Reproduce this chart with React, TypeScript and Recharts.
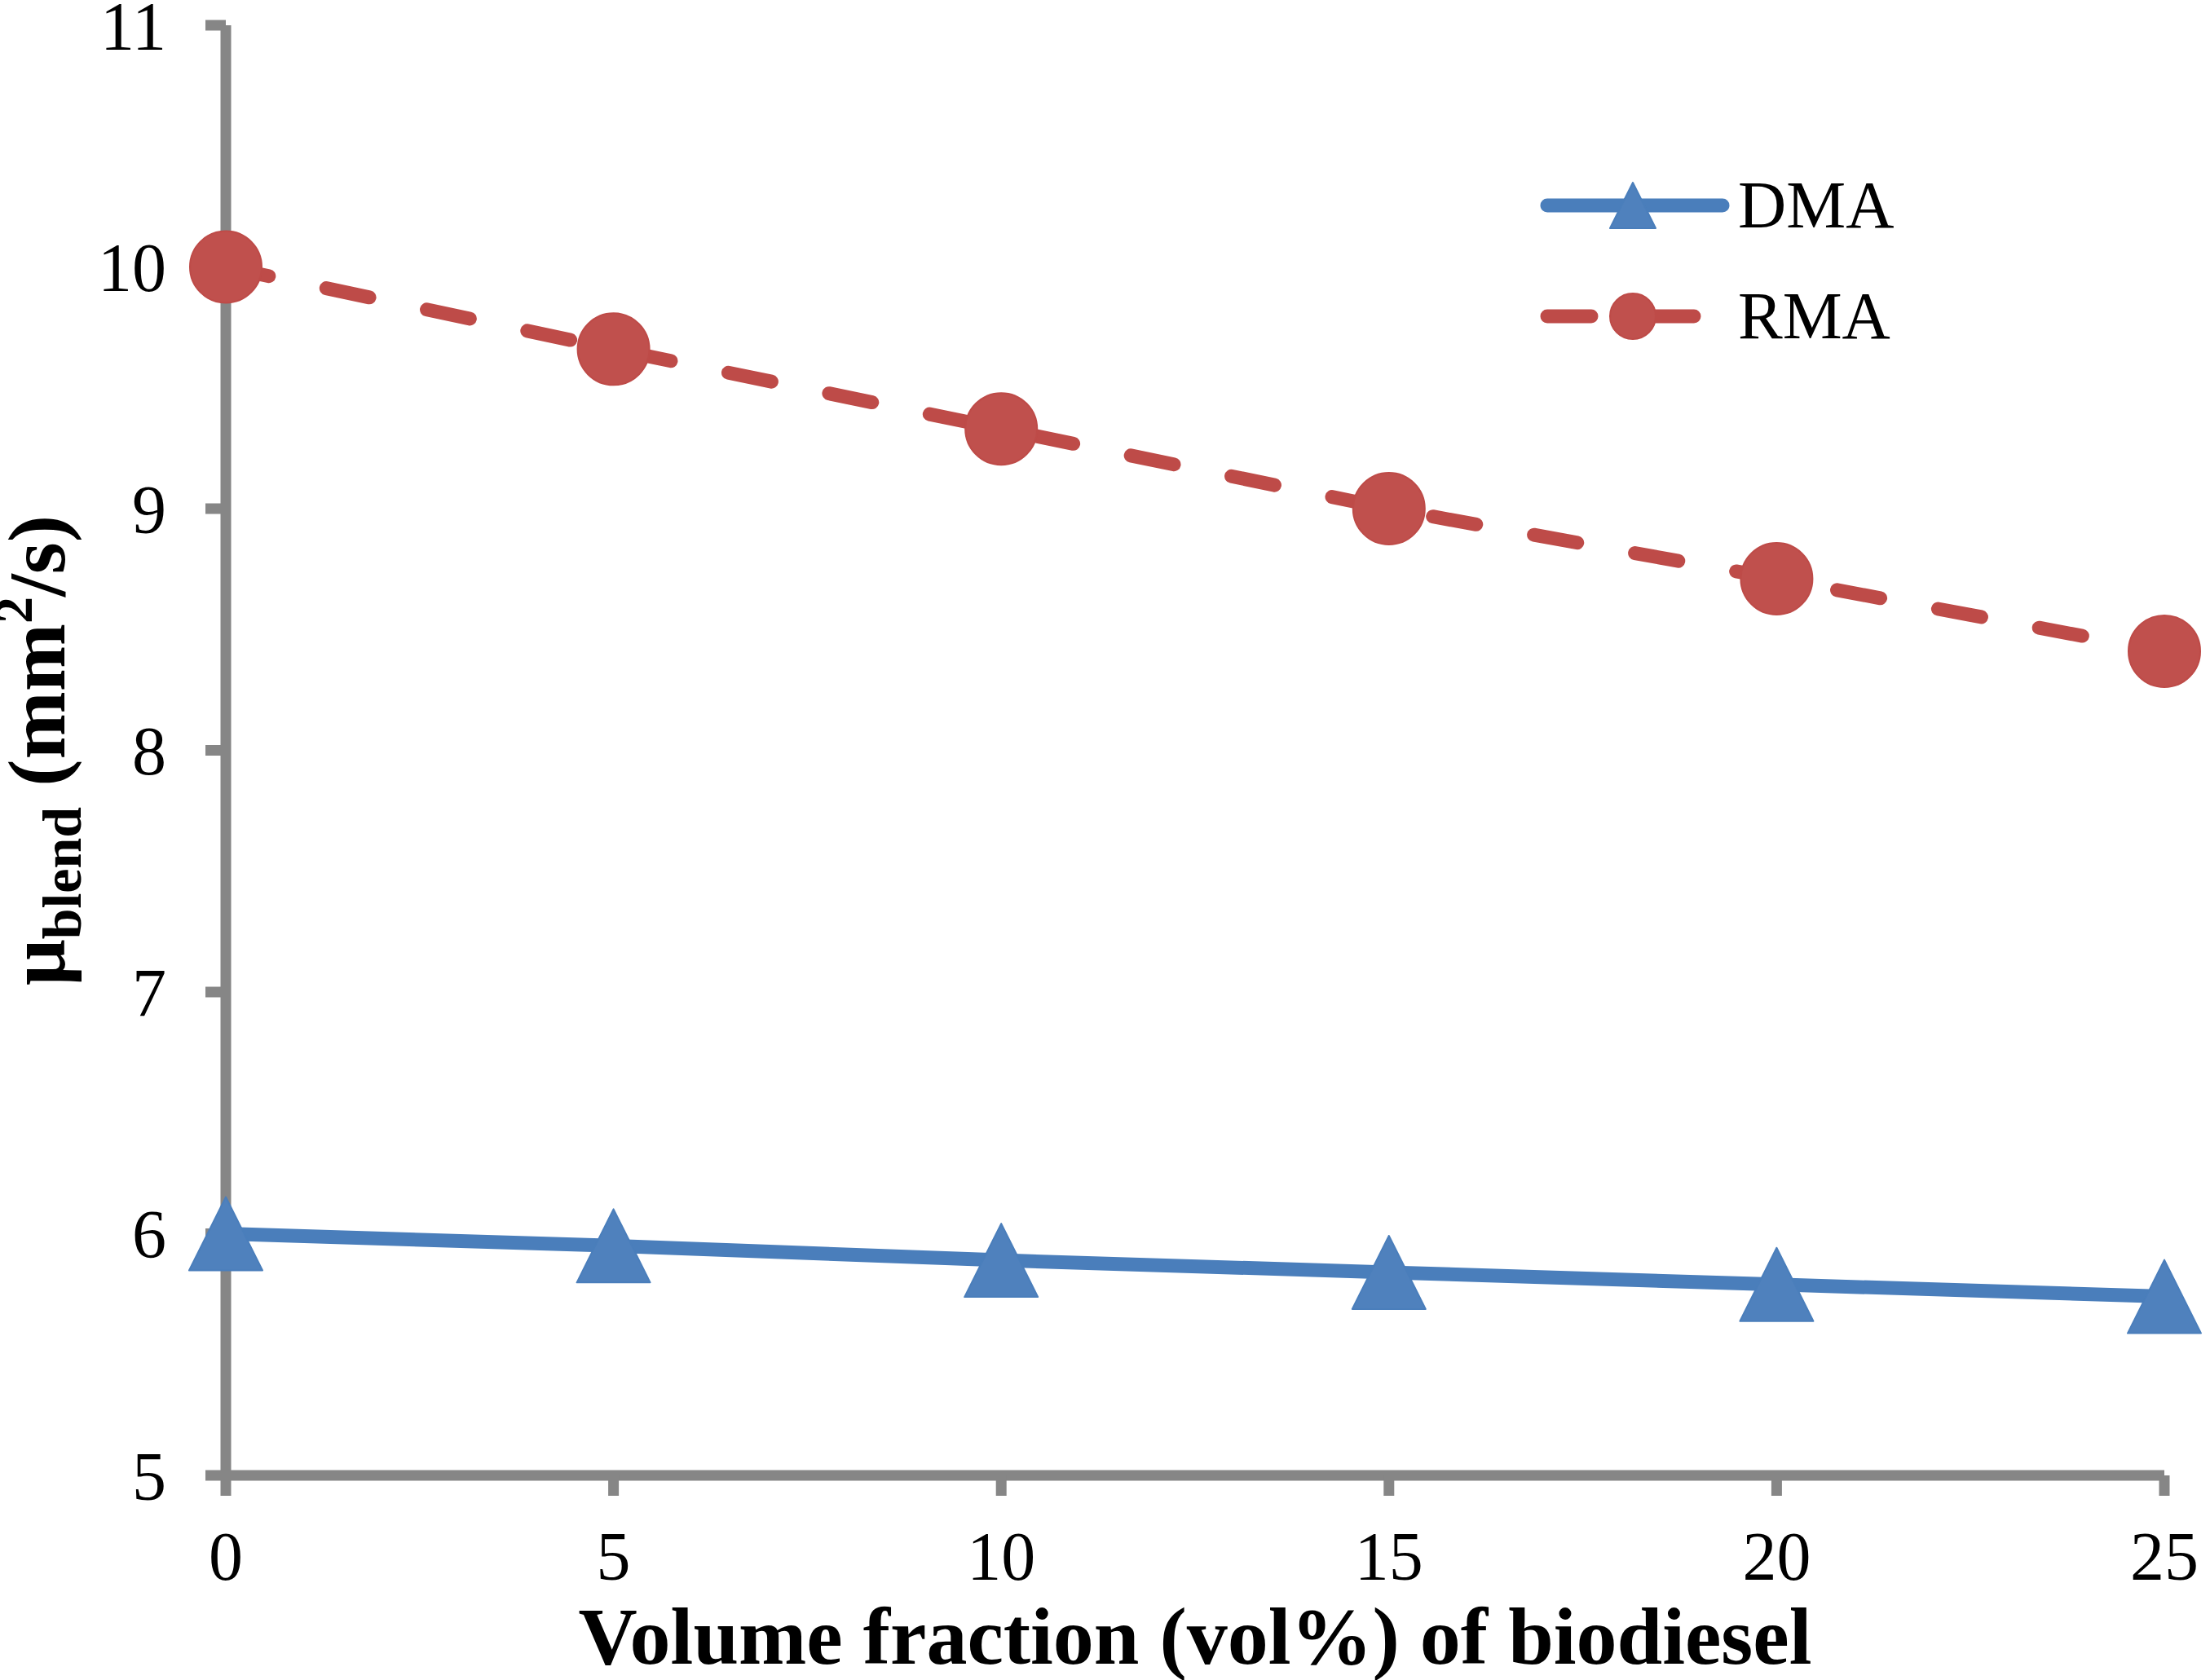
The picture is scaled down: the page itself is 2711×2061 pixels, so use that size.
import React from "react";
import { LineChart, Line, XAxis, YAxis, Legend } from "recharts";

// volume fraction of biodiesel (vol%)
const fractions = [0, 5, 10, 15, 20, 25];
// blend viscosity, mm2/s
const dmaValues = [6.0, 5.95, 5.89, 5.84, 5.79, 5.74];
const rmaValues = [10.0, 9.66, 9.33, 9.0, 8.71, 8.41];

const xTicks = [0, 5, 10, 15, 20, 25];
const yTicks = [5, 6, 7, 8, 9, 10, 11];

const data = fractions.map((f, i) => ({ x: f, DMA: dmaValues[i], RMA: rmaValues[i] }));

const AXIS = "#868686";
const BLUE_LINE = "#4A7EBB";
const BLUE_MARK = "#4F81BD";
const RED_LINE = "#BE4B48";
const RED_MARK = "#C0504D";
const FONT = "'Liberation Serif', 'Times New Roman', serif";

function Triangle(props: any) {
  const { cx, cy, size = 45 } = props;
  if (cx == null || cy == null) return null;
  const pts = `${cx},${cy - size} ${cx - size},${cy + size} ${cx + size},${cy + size}`;
  return <polygon points={pts} fill={BLUE_MARK} stroke={BLUE_LINE} strokeWidth={2} strokeLinejoin="round" />;
}

function Circle(props: any) {
  const { cx, cy, radius = 44 } = props;
  if (cx == null || cy == null) return null;
  return <circle cx={cx} cy={cy} r={radius} fill={RED_MARK} stroke={RED_LINE} strokeWidth={2} />;
}

function LegendBox(props: any) {
  const items = props.payload || [];
  return (
    <div style={{ fontFamily: FONT, fontSize: 82, color: "#000" }}>
      {items.map((it: any) => {
        const isRma = it.value === "RMA";
        return (
          <div key={it.value} style={{ display: "flex", alignItems: "center", height: 136 }}>
            <svg width={240} height={100}>
              <line
                x1={10} y1={50} x2={225} y2={50}
                stroke={isRma ? RED_LINE : BLUE_LINE}
                strokeWidth={17}
                strokeLinecap="round"
                strokeDasharray={isRma ? "54 72" : undefined}
              />
              {isRma ? <Circle cx={115} cy={50} radius={28} /> : <Triangle cx={115} cy={50} size={28} />}
            </svg>
            <span style={{ marginLeft: 4, lineHeight: 1 }}>{it.value}</span>
          </div>
        );
      })}
    </div>
  );
}

function YTitle(props: any) {
  const vb = props.viewBox || {};
  const cy = vb.y + vb.height / 2;
  const x = 79;
  return (
    <text
      x={x}
      y={cy}
      transform={`rotate(-90 ${x} ${cy})`}
      textAnchor="middle"
      fontFamily={FONT}
      fontWeight="bold"
      fontSize={100}
      fill="#000"
    >
      <tspan>μ</tspan>
      <tspan fontSize={68} dy={20}>blend</tspan>
      <tspan dy={-20}> (mm</tspan>
      <tspan fontSize={66} dy={-40}>2</tspan>
      <tspan dy={40}>/s)</tspan>
    </text>
  );
}

export default function App() {
  return (
    <div style={{ width: 2711, height: 2061, background: "#fff" }}>
      <style>{"body{margin:0}"}</style>
      <LineChart
        width={2711}
        height={2061}
        data={data}
        margin={{ top: 31, right: 56, bottom: 0, left: 0 }}
      >
        <XAxis
          dataKey="x"
          type="number"
          domain={[0, 25]}
          ticks={xTicks}
          height={251}
          axisLine={{ stroke: AXIS, strokeWidth: 13 }}
          tickLine={{ stroke: AXIS, strokeWidth: 13 }}
          tickSize={25}
          tickMargin={43}
          tick={{ fill: "#000", fontSize: 84, fontFamily: FONT }}
          interval={0}
          label={{
            value: "Volume fraction (vol%) of biodiesel",
            position: "insideBottom",
            offset: 20,
            style: { fontFamily: FONT, fontWeight: "bold", fontSize: 100, fill: "#000" },
          }}
        />
        <XAxis xAxisId="top" orientation="top" dataKey="x" type="number" domain={[0, 25]} height={0} tick={false} tickLine={false} axisLine={{ stroke: "#808080", strokeWidth: 13 }} />
        <YAxis
          type="number"
          domain={[5, 11]}
          ticks={yTicks}
          width={277}
          axisLine={{ stroke: AXIS, strokeWidth: 13 }}
          tickLine={{ stroke: AXIS, strokeWidth: 13 }}
          tickSize={25}
          tickMargin={48}
          tick={{ fill: "#000", fontSize: 84, fontFamily: FONT }}
          interval={0}
          label={<YTitle />}
        />
        <YAxis yAxisId="right" orientation="right" type="number" domain={[5, 11]} width={0} tick={false} tickLine={false} axisLine={{ stroke: "#808080", strokeWidth: 13 }} />
        <Legend
          layout="vertical"
          align="center"
          verticalAlign="middle"
          content={<LegendBox />}
          wrapperStyle={{ position: "absolute", left: 1888, top: 184, width: 600 }}
        />
        <Line
          dataKey="DMA"
          name="DMA"
          stroke={BLUE_LINE}
          strokeWidth={17}
          dot={<Triangle />}
          activeDot={false}
          isAnimationActive={false}
        />
        <Line
          dataKey="RMA"
          name="RMA"
          stroke={RED_LINE}
          strokeWidth={17}
          strokeDasharray="54 72"
          strokeLinecap="round"
          dot={<Circle />}
          activeDot={false}
          isAnimationActive={false}
        />
      </LineChart>
    </div>
  );
}
